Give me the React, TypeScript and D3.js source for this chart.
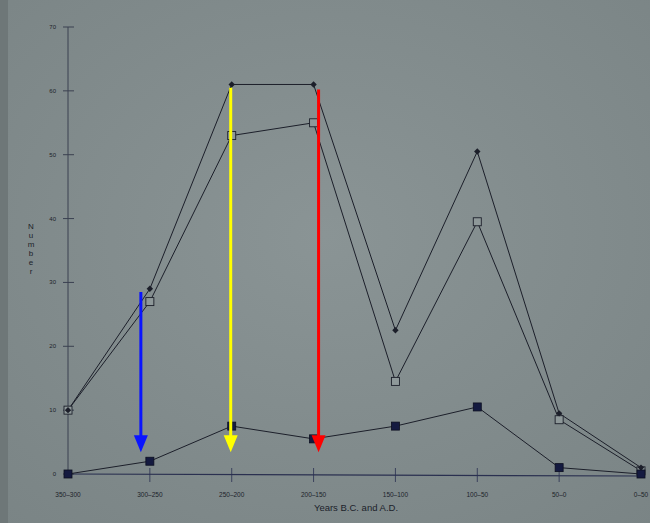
import React from "react";
import * as d3 from "d3";

const categories = ["350–300", "300–250", "250–200", "200–150", "150–100", "100–50", "50–0", "0–50"];
const seriesDiamond = [10, 29, 61, 61, 22.5, 50.5, 9.5, 1];
const seriesOpen = [10, 27, 53, 55, 14.5, 39.5, 8.5, 0.5];
const seriesFilled = [0, 2, 7.5, 5.5, 7.5, 10.5, 1, 0];
const yTicks = [0, 10, 20, 30, 40, 50, 60, 70];
const arrows = [
  { cat: "300–250", shift: -9, from: 28.5, to: 3.4, color: "#0a14ff" },
  { cat: "250–200", shift: -1, from: 60.5, to: 3.4, color: "#ffff00" },
  { cat: "200–150", shift: 5, from: 60.2, to: 3.4, color: "#ff0000" },
];

const W = 650;
const H = 523;

export default function App() {
  const x = d3.scalePoint<string>().domain(categories).range([68, 641]);
  const y = d3.scaleLinear().domain([0, 70]).range([474, 27]);
  const line = d3
    .line<number>()
    .x((_, i) => x(categories[i]) as number)
    .y((d) => y(d));
  const ink = "#1c1f2a";
  const font = "Liberation Sans, Arial, sans-serif";
  return (
    <svg width={W} height={H} style={{ position: "absolute", left: 0, top: 0 }}>
      <defs>
        <radialGradient id="bg" cx="0.5" cy="0.45" r="0.75">
          <stop offset="0" stopColor="#8a9495" />
          <stop offset="1" stopColor="#7a8485" />
        </radialGradient>
      </defs>
      <rect width={W} height={H} fill="url(#bg)" />
      <rect width={8} height={H} fill="#6e7778" />
      {/* y axis */}
      <line x1={68} x2={68} y1={y(70)} y2={y(0)} stroke="#3a4050" strokeWidth={1} />
      {yTicks.map((t) => (
        <g key={t}>
          <line x1={63} x2={74} y1={y(t)} y2={y(t)} stroke="#3a4050" strokeWidth={1} />
          <text x={56} y={y(t) + 2} fontSize={6} fontFamily={font} fill={ink} textAnchor="end">
            {t}
          </text>
        </g>
      ))}
      {/* y title */}
      {"Number".split("").map((c, i) => (
        <text key={i} x={31} y={229 + i * 9} fontSize={8} fontFamily={font} fill={ink} textAnchor="middle">
          {c}
        </text>
      ))}
      {/* x axis */}
      <line x1={68} x2={641} y1={y(0)} y2={y(0) + 2} stroke="#2a3050" strokeWidth={1.2} />
      {categories.map((c, i) => (
        <g key={c}>
          {i > 0 && i < categories.length - 1 && (
            <line
              x1={x(c)}
              x2={x(c)}
              y1={y(0) - 6}
              y2={y(0) + 8}
              stroke="#2a3050"
              strokeWidth={0.8}
            />
          )}
          <text
            x={x(c)}
            y={y(0) + 23}
            fontSize={6.5}
            fontFamily={font}
            fill={ink}
            textAnchor="middle"
          >
            {c}
          </text>
        </g>
      ))}
      <text x={356} y={511} fontSize={9.5} fontFamily={font} fill={ink} textAnchor="middle">
        Years B.C. and A.D.
      </text>
      {/* lines */}
      <path d={line(seriesDiamond) || ""} fill="none" stroke={ink} strokeWidth={1} />
      <path d={line(seriesOpen) || ""} fill="none" stroke={ink} strokeWidth={1} />
      <path d={line(seriesFilled) || ""} fill="none" stroke={ink} strokeWidth={1} />
      {/* markers */}
      {seriesOpen.map((v, i) => (
        <rect
          key={"o" + i}
          x={(x(categories[i]) as number) - 4}
          y={y(v) - 4}
          width={8}
          height={8}
          fill="#8e9899"
          stroke={ink}
          strokeWidth={0.9}
        />
      ))}
      {seriesDiamond.map((v, i) => {
        const cx = x(categories[i]) as number;
        const cy = y(v);
        return (
          <path
            key={"d" + i}
            d={`M${cx},${cy - 3.2}L${cx + 3.2},${cy}L${cx},${cy + 3.2}L${cx - 3.2},${cy}Z`}
            fill={ink}
          />
        );
      })}
      {seriesFilled.map((v, i) => (
        <rect
          key={"f" + i}
          x={(x(categories[i]) as number) - 4}
          y={y(v) - 4}
          width={8}
          height={8}
          fill="#141a40"
          stroke="#0c0f20"
          strokeWidth={0.8}
        />
      ))}
      {/* arrows */}
      {arrows.map((a, i) => {
        const ax = (x(a.cat) as number) + a.shift;
        const y1 = y(a.from);
        const y2 = y(a.to);
        return (
          <g key={"a" + i}>
            <line x1={ax} x2={ax} y1={y1} y2={y2 - 14} stroke={a.color} strokeWidth={3} />
            <path d={`M${ax - 7},${y2 - 17}L${ax + 7},${y2 - 17}L${ax},${y2}Z`} fill={a.color} />
          </g>
        );
      })}
    </svg>
  );
}
